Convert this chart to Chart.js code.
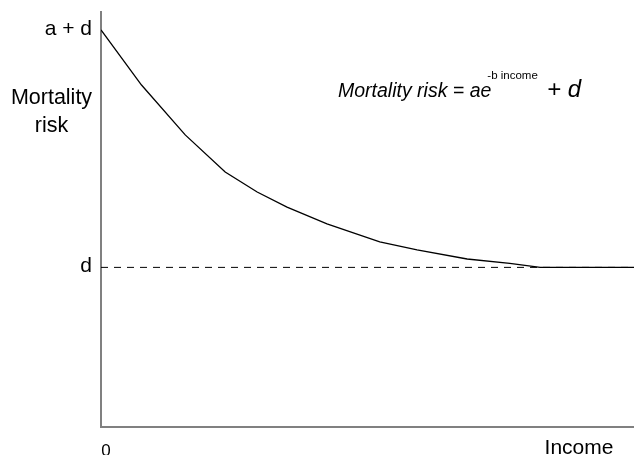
<!DOCTYPE html>
<html>
<head>
<meta charset="utf-8">
<script src="https://cdn.jsdelivr.net/npm/chart.js@4"></script>
<style>
  html, body { margin: 0; padding: 0; background: #fff; }
  #wrap { width: 634px; height: 455px; position: relative; }
</style>
</head>
<body>
<div id="wrap"><canvas id="chart"></canvas></div>
<script>
// curve (arbitrary units)
const incomeValues = [0, 7.6, 15.8, 23.3, 29.3, 34.9, 42.4, 52.3, 59.3, 68.7, 76.7, 82.4, 100];
const riskValues = [99.5, 85.7, 73.2, 63.9, 58.9, 55.1, 50.9, 46.4, 44.4, 42.1, 41.0, 40.0, 40.0];
const floorIncome = [0, 100];
const floorRisk = [40, 40];
const yTickValues = [99.5, 40];
const yTickLabels = ['a + d', 'd'];

const FONT = '"Liberation Sans", Arial, sans-serif';

// labels and formula
const textPlugin = {
    id: 'textLabels',
    afterDraw(chart) {
        const { ctx, scales } = chart;
        const x = scales.x, y = scales.y;
        ctx.save();
        ctx.fillStyle = '#000';
        ctx.textBaseline = 'alphabetic';

        // y tick labels
        ctx.font = '21px ' + FONT;
        ctx.textAlign = 'right';
        yTickValues.forEach((v, i) => {
            ctx.fillText(yTickLabels[i], x.left - 9, y.getPixelForValue(v) + 5);
        });

        // axis title
        ctx.textAlign = 'center';
        ctx.font = '21.5px ' + FONT;
        ctx.fillText('Mortality', 51.5, 104);
        ctx.fillText('risk', 51.5, 132);

        // x labels
        ctx.font = '17px ' + FONT;
        ctx.fillText('0', x.getPixelForValue(0) + 5, 456);
        ctx.font = '21px ' + FONT;
        ctx.fillText('Income', 579, 454);

        // formula
        ctx.textAlign = 'left';
        ctx.font = 'italic 19.5px ' + FONT;
        const main = 'Mortality risk = ae';
        ctx.fillText(main, 338, 97);
        const w = ctx.measureText(main).width;
        ctx.font = '11.5px ' + FONT;
        ctx.fillText('-b income', 338 + w - 4, 79);
        ctx.font = 'italic 24px ' + FONT;
        ctx.fillText('+ d', 547, 97);
        ctx.restore();
    }
};

new Chart(document.getElementById('chart'), {
    type: 'line',
    data: {
        datasets: [{
            data: incomeValues.map((v, i) => ({ x: v, y: riskValues[i] })),
            borderColor: '#000',
            borderWidth: 1.3,
            pointRadius: 0,
            tension: 0,
            fill: false
        }, {
            data: floorIncome.map((v, i) => ({ x: v, y: floorRisk[i] })),
            borderColor: '#000',
            borderWidth: 1,
            borderDash: [7, 6],
            pointRadius: 0,
            fill: false
        }]
    },
    options: {
        responsive: true,
        maintainAspectRatio: false,
        animation: false,
        devicePixelRatio: 1,
        layout: { padding: { left: 93, top: 12, right: 0, bottom: 20 } },
        scales: {
            x: {
                type: 'linear',
                min: 0,
                max: 100,
                ticks: { display: false },
                grid: { display: false },
                border: { display: true, color: '#808080', width: 2 }
            },
            y: {
                min: 0,
                max: 104,
                ticks: { display: false },
                grid: { display: false },
                border: { display: true, color: '#808080', width: 2 }
            }
        },
        plugins: {
            legend: { display: false },
            tooltip: { enabled: false }
        }
    },
    plugins: [textPlugin]
});
</script>
</body>
</html>
